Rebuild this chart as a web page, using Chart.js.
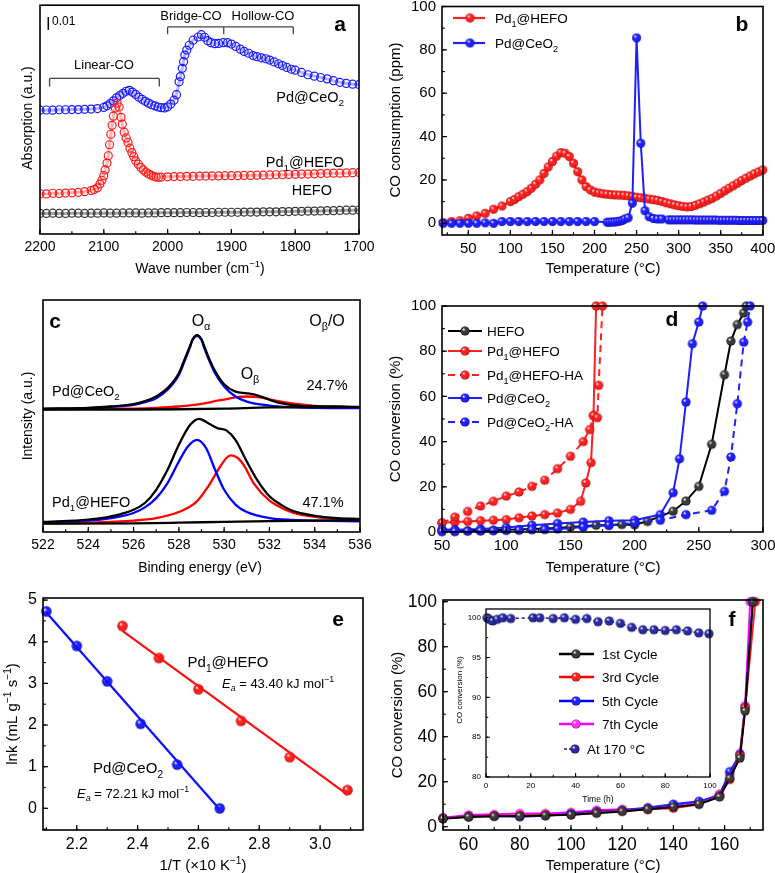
<!DOCTYPE html>
<html><head><meta charset="utf-8">
<script src="https://cdn.jsdelivr.net/npm/chart.js@4.4.0/dist/chart.umd.min.js"></script>
<style>
html,body{margin:0;padding:0;background:#fff;}
#wrap{position:relative;width:775px;height:873px;overflow:hidden;background:#fff;}
canvas{position:absolute;left:0;top:0;}
</style></head><body><div id="wrap">
<canvas id="ca" width="775" height="873"></canvas>
<canvas id="cb" width="775" height="873"></canvas>
<canvas id="cc" width="775" height="873"></canvas>
<canvas id="cd" width="775" height="873"></canvas>
<canvas id="ce" width="775" height="873"></canvas>
<canvas id="cf" width="775" height="873"></canvas>
<canvas id="cg" width="775" height="873"></canvas>
</div>
<script>
// ---------------- DATA ----------------
// Panel a: DRIFTS spectra (relative absorption, arbitrary offset units)
const aHefoX = [2200,2190,2180,2170,2160,2150,2140,2130,2120,2110,2100,2090,2080,2070,2060,2050,2040,2030,2020,2010,2000,1990,1980,1970,1960,1950,1940,1930,1920,1910,1900,1890,1880,1870,1860,1850,1840,1830,1820,1810,1800,1790,1780,1770,1760,1750,1740,1730,1720,1710,1700];
const aHefoY = [9.0,9.0,9.1,9.0,9.0,9.1,9.1,9.0,9.1,9.1,9.2,9.1,9.1,9.2,9.2,9.2,9.1,9.2,9.2,9.3,9.3,9.3,9.3,9.4,9.4,9.3,9.4,9.4,9.5,9.5,9.5,9.5,9.6,9.6,9.6,9.7,9.7,9.7,9.8,9.8,9.9,9.9,10.0,10.0,10.1,10.2,10.2,10.3,10.4,10.4,10.5];
const aPd1X = [2200,2190,2180,2170,2160,2150,2140,2130,2120,2115,2110,2106,2103,2100,2098,2095,2093,2091,2089,2087,2085,2082,2079,2076,2073,2071,2068,2065,2062,2059,2056,2053,2050,2046,2042,2038,2034,2030,2026,2022,2018,2014,2010,2000,1990,1980,1970,1960,1950,1940,1930,1920,1910,1900,1890,1880,1870,1860,1850,1840,1830,1820,1810,1800,1790,1780,1770,1760,1750,1740,1730,1720,1710,1700];
const aPd1Y = [17.6,17.5,17.8,17.7,17.9,18.0,18.2,18.5,19.0,19.4,20.2,21.8,23.5,25.5,28.0,31.0,34.2,39.0,43.6,47.5,51.5,55.1,57.2,55.5,51.0,48.0,44.5,42.0,40.0,37.5,35.6,33.8,32.0,30.5,29.1,28.0,27.0,26.3,25.7,25.2,24.9,24.8,24.9,25.0,25.1,25.1,25.2,25.2,25.3,25.3,25.4,25.4,25.5,25.5,25.5,25.6,25.6,25.7,25.7,25.8,25.9,25.9,26.0,26.1,26.2,26.2,26.3,26.4,26.5,26.6,26.6,26.7,26.8,26.9];
const aCeX = [2200,2190,2180,2170,2160,2150,2140,2130,2120,2110,2100,2095,2090,2085,2080,2075,2070,2065,2060,2055,2050,2045,2040,2035,2030,2025,2020,2015,2010,2005,2000,1995,1990,1986,1982,1980,1977,1975,1973,1970,1966,1960,1952,1947,1942,1937,1932,1926,1920,1913,1906,1900,1893,1886,1880,1873,1866,1860,1853,1846,1840,1833,1826,1820,1813,1806,1800,1790,1780,1770,1760,1750,1740,1730,1720,1710,1700];
const aCeY = [54.1,54.2,54.1,54.3,54.3,54.4,54.4,54.5,54.6,54.8,55.3,56.0,57.0,58.2,59.5,60.5,61.5,62.4,62.8,62.0,61.0,59.8,58.9,58.0,57.2,56.5,56.0,55.5,55.2,55.1,55.6,56.8,58.5,60.9,66.5,68.8,72.4,75.3,78.2,80.4,82.5,84.7,86.1,87.1,86.0,84.5,83.6,83.2,83.3,83.6,83.6,83.0,82.0,80.8,79.8,79.0,78.0,77.5,77.0,76.6,76.0,75.2,74.4,73.6,72.8,72.0,71.6,70.6,69.6,69.0,68.4,67.8,67.0,66.3,65.8,65.5,65.3];

// Panel b: CO-TPR, CO consumption (ppm)
const bPd1T = [20,30,40,50,60,70,80,90,100,105,110,115,120,125,130,135,140,145,150,155,160,165,170,175,180,185,190,195,200,205,210,215,220,225,230,235,240,245,250,255,260,265,270,275,280,285,290,295,300,305,310,315,320,325,330,335,340,345,350,355,360,365,370,375,380,385,390,395,400];
const bPd1V = [0.3,0.8,1.2,2.3,3.4,4.6,6.5,8.0,10.0,11.0,12.3,13.4,14.6,16.2,18.0,20.0,23.0,26.0,28.5,31.0,32.6,32.3,30.8,27.7,23.8,20.0,16.9,15.4,14.4,14.0,13.6,13.4,13.2,13.1,13.0,12.9,12.7,12.4,12.0,11.8,11.5,11.2,10.9,10.6,10.1,9.5,9.0,8.5,8.1,7.8,7.6,7.7,8.3,9.0,9.8,10.7,11.5,12.6,13.8,15.0,16.2,17.3,18.5,19.7,20.8,21.8,22.8,23.7,24.6];
const bCeT = [20,30,40,50,60,70,80,90,100,110,120,130,140,150,160,170,180,190,200,215,218,221,224,227,230,233,236,240,245,250,255,260,265,270,275,280,288,292,296,300,304,308,312,316,320,324,328,332,336,340,344,348,352,356,360,364,368,372,376,380,384,388,392,396,400];
const bCeV = [0,0,0,0,0,0.2,0,0.8,0.8,0.8,0.8,0.8,0.8,0.8,0.8,0.8,0.8,0.8,0.8,0.5,0.5,0.6,0.6,0.8,1.0,1.3,2.0,2.5,9.3,85.5,36.9,5.8,3.0,2.2,2.0,2.0,1.6,1.6,1.6,1.6,1.6,1.6,1.6,1.6,1.5,1.5,1.5,1.5,1.5,1.5,1.5,1.4,1.4,1.4,1.4,1.4,1.4,1.3,1.3,1.3,1.3,1.3,1.3,1.3,1.3];

// Panel c: O 1s XPS (relative intensity, offset)
const cCeEnvX = [522,524,525,526,526.5,527,527.5,528,528.3,528.5,528.6,528.8,529.0,529.1,529.3,529.6,530,530.5,531,531.5,532,532.5,533,534,535,536];
const cCeEnvY = [53.2,53.5,54.1,55.1,56.4,58.4,62.0,68.4,75.6,80.3,82.8,84.9,83.1,80.6,75.6,69.4,63.7,60.5,59.8,58.8,57.0,55.5,54.7,54.2,54.1,53.9];
const cCeAlX = [522,524,525,526,526.5,527,527.5,528,528.3,528.5,528.6,528.8,529.0,529.1,529.3,529.6,530,530.5,531,532,533,534,536];
const cCeAlY = [53.1,53.4,54.0,54.8,56.0,57.7,61.3,67.7,74.9,79.9,82.8,84.6,82.8,79.9,74.9,68.4,62.7,58.4,56.2,54.5,53.8,53.5,53.4];
const cCeBeX = [522,524,526,527,528,529,529.5,530,530.5,531,531.5,532,532.5,533,534,535,536];
const cCeBeY = [52.9,53.1,53.2,53.5,54.1,55.2,56.2,57.1,58.0,58.4,58.1,57.2,56.2,55.4,54.4,54.0,53.8];
const cCeBgX = [522,526,528,530,532,534,536];
const cCeBgY = [52.8,52.8,52.9,53.2,53.7,53.8,53.8];
const cPdEnvX = [522,524,525,526,526.5,527,527.5,528,528.5,528.9,529.3,529.7,530.1,530.5,531,531.5,532,532.5,533,534,535,536];
const cPdEnvY = [4.3,5.3,6.7,9.6,12.5,18.2,26.8,37.6,46.2,48.8,46.9,44.8,43.8,39.7,30.4,21.8,15.4,11.8,9.2,7.0,6.0,5.6];
const cPdAlX = [522,524,525,526,526.5,527,527.5,528,528.4,528.8,529.2,529.6,530,530.5,531,532,533,534,536];
const cPdAlY = [4.2,4.9,6.0,8.2,10.6,14.6,21.1,30.4,36.9,39.7,36.2,26.8,18.2,11.8,8.6,6.0,5.2,4.9,4.6];
const cPdBeX = [522,524,526,527,528,528.8,529.3,529.8,530.1,530.3,530.6,530.9,531.3,532,532.5,533,534,535,536];
const cPdBeY = [3.7,4.0,4.9,6.0,8.6,13.2,19.7,27.8,31.9,33.0,31.9,28.3,21.1,13.5,10.6,8.5,6.5,5.6,5.2];
const cPdBgX = [522,526,528,530,532,534,536];
const cPdBgY = [3.6,3.7,4.0,4.4,4.7,4.9,5.0];

// Panel d: CO conversion (%) vs temperature
const dHefoT = [50,60,70,80,90,100,110,120,130,140,150,160,170,180,190,200,210,230,240,250,260,270,275,280,285,287];
const dHefoV = [0.3,0.3,0.5,0.6,0.8,1.0,1.1,1.3,1.5,1.8,2.2,2.6,3.0,3.0,3.3,3.2,4.7,9.2,13.7,20.2,38.8,69.6,84.5,91.8,96.9,100];
const dPd1T = [50,60,70,80,90,100,110,120,130,140,150,158,162,166,168,170];
const dPd1V = [4.1,4.4,4.7,5.0,5.2,5.5,6.3,7.1,7.7,8.4,10.0,13.6,21.7,30.7,51.6,100];
const dPd1HaT = [50,60,70,80,90,100,110,120,130,140,150,160,165,168,171,172,175];
const dPd1HaV = [4.0,6.6,9.1,11.5,13.6,15.9,17.7,20.2,22.9,28.0,33.5,40.0,45.3,51.5,50.6,64.9,100];
const dCeT = [50,60,80,100,120,140,160,180,200,220,230,235,240,245,250,253];
const dCeV = [1.2,1.0,1.3,2.0,3.0,3.8,4.4,5.0,5.2,7.7,17.4,32.4,57.5,83.3,92.9,100];
const dCeHaT = [50,60,70,80,90,100,110,120,130,140,160,180,200,220,240,260,270,275,280,285,288,290];
const dCeHaV = [0.3,0.3,0.4,0.5,0.6,0.7,0.8,1.0,1.1,1.3,2.2,3.0,4.0,5.2,7.7,9.6,18.0,33.2,56.8,84.0,92.9,100];

// Panel e: Arrhenius plots
const eCeX = [2.10,2.20,2.30,2.41,2.53,2.67];
const eCeY = [4.73,3.90,3.05,2.03,1.05,0.00];
const eCeFitX = [2.10,2.67];
const eCeFitY = [4.70,-0.03];
const ePd1X = [2.35,2.47,2.60,2.74,2.90,3.09];
const ePd1Y = [4.38,3.61,2.86,2.10,1.23,0.44];
const ePd1FitX = [2.35,3.09];
const ePd1FitY = [4.26,0.33];

// Panel f: cycling tests
const fT = [50,60,70,80,90,100,110,120,130,140,150,158,162,166,168];
const f1stV = [3.5,4.3,4.6,4.7,5.0,5.3,6.0,6.8,7.7,8.8,10.0,13.2,21.5,30.5,51.4];
const f3rdV = [3.7,4.4,4.7,5.0,5.2,5.2,6.3,7.0,7.7,8.2,10.0,13.6,21.0,31.5,52.7];
const f5thV = [3.8,4.6,4.8,4.4,4.9,5.8,6.8,7.3,8.5,10.0,11.3,13.8,24.5,32.0,53.0];
const f7thV = [4.0,5.2,5.5,5.9,5.9,6.4,7.3,7.7,7.9,9.6,10.8,14.5,23.3,32.6,53.8];
const fEndT = {first:171, third:172, fifth:171, seventh:170};
const fEndV = 100;
// Inset: stability at 170 °C
const gTime = [0.5,1.5,3,5,7.5,11,21,24,30,35,40,45,50,55,60,65,70,75,80,85,90,95,99.5];
const gConv = [100,99.8,99.6,99.8,100,99.9,100,100,99.9,100,99.8,99.9,99.5,99.6,99.3,98.8,98.5,98.5,98.4,98.5,98.35,98.1,98.0];

// ---------------- HELPERS ----------------
const FONT = '"Liberation Sans", Arial, Helvetica, sans-serif';
const W = 775, H = 873;
Chart.defaults.font.family = FONT;
const pts = (xs, ys) => xs.map((x, i) => ({x: x, y: ys[i]}));

function sphere(col, dark, r) {
  const s = Math.ceil(2 * r + 2), c = document.createElement('canvas');
  c.width = s; c.height = s;
  const g = c.getContext('2d'), m = s / 2;
  const gr = g.createRadialGradient(m - r * 0.35, m - r * 0.4, r * 0.05, m, m, r);
  gr.addColorStop(0, '#ffffff'); gr.addColorStop(0.35, col); gr.addColorStop(0.8, col); gr.addColorStop(1, dark);
  g.fillStyle = gr; g.beginPath(); g.arc(m, m, r, 0, Math.PI * 2); g.fill();
  return c;
}
const C = {red:['#ff2020','#a00000'], blue:['#2020ff','#0000a0'], black:['#3a3a3a','#000000'], mag:['#ff30ff','#b000b0'], navy:['#2a2aa0','#08084a']};
const LINEC = {red:'#ff2020', blue:'#2020ff', black:'#000000', mag:'#ff00ff', navy:'#1a1a80'};
const sph = (k, r) => sphere(C[k][0], C[k][1], r);

function fontStr(size, mode, bold) {
  const small = (mode === 'sub' || mode === 'sup' || mode === 'subit');
  const s = small ? size * 0.68 : size;
  const it = (mode === 'it' || mode === 'subit') ? 'italic ' : '';
  return it + (bold ? 'bold ' : '') + s.toFixed(1) + 'px ' + FONT;
}
function rich(ctx, parts, x, yc, size, align, bold, color) {
  const segs = parts.map(p => typeof p === 'string' ? [p, 'n'] : p);
  let w = 0;
  segs.forEach(([t, m]) => { ctx.font = fontStr(size, m, bold); w += ctx.measureText(t).width; });
  let cx = align === 'center' ? x - w / 2 : align === 'right' ? x - w : x;
  const base = yc + size * 0.36;
  ctx.textAlign = 'left'; ctx.textBaseline = 'alphabetic'; ctx.fillStyle = color || '#000';
  segs.forEach(([t, m]) => {
    ctx.font = fontStr(size, m, bold);
    const dy = (m === 'sub' || m === 'subit') ? size * 0.28 : m === 'sup' ? -size * 0.42 : 0;
    ctx.fillText(t, cx, base + dy);
    cx += ctx.measureText(t).width;
  });
}
function richRot(ctx, parts, x, yc, size) {
  ctx.save(); ctx.translate(x, yc); ctx.rotate(-Math.PI / 2);
  rich(ctx, parts, 0, 0, size, 'center'); ctx.restore();
}
function minors(min, max, step) {
  const r = [];
  for (let v = Math.ceil(min / step - 1e-9) * step; v <= max + 1e-9; v += step) r.push(+v.toFixed(6));
  return r;
}
function legendRow(ctx, x1, x2, xm, y, col, img, dash, parts, tx, size, lw) {
  ctx.save(); ctx.strokeStyle = col; ctx.lineWidth = lw || 2.2;
  if (dash) ctx.setLineDash(dash);
  ctx.beginPath(); ctx.moveTo(x1, y); ctx.lineTo(x2, y); ctx.stroke(); ctx.restore();
  ctx.drawImage(img, xm - img.width / 2, y - img.height / 2);
  rich(ctx, parts, tx, y, size, 'left');
}

function deco(o) {
  return {id: 'deco', afterDraw(chart) {
    const ctx = chart.ctx, A = chart.chartArea, X = chart.scales.x, Y = chart.scales.y;
    ctx.save();
    ctx.strokeStyle = '#000'; ctx.lineWidth = o.frameW || 1.6;
    ctx.strokeRect(A.left, A.top, A.right - A.left, A.bottom - A.top);
    ctx.lineWidth = o.tickW || 1.2;
    const tl = o.tl || 5;
    const dx = (vals, len) => vals.forEach(v => { const p = X.getPixelForValue(v);
      if (p < A.left - 0.5 || p > A.right + 0.5) return;
      ctx.beginPath(); ctx.moveTo(p, A.bottom); ctx.lineTo(p, A.bottom - len); ctx.stroke(); });
    const dy = (vals, len) => vals.forEach(v => { const p = Y.getPixelForValue(v);
      if (p < A.top - 0.5 || p > A.bottom + 0.5) return;
      ctx.beginPath(); ctx.moveTo(A.left, p); ctx.lineTo(A.left + len, p); ctx.stroke(); });
    dx(X.ticks.map(t => t.value), tl);
    if (o.xMinor) dx(minors(X.min, X.max, o.xMinor), tl * 0.55);
    if (o.yTicks) { dy(Y.ticks.map(t => t.value), tl); if (o.yMinor) dy(minors(Y.min, Y.max, o.yMinor), tl * 0.55); }
    ctx.restore();
    if (o.annot) { ctx.save(); o.annot(ctx, chart); ctx.restore(); }
  }};
}
function tk(step, size, fmt, pad, show) {
  return {display: show !== false, stepSize: step, includeBounds: false, autoSkip: false, maxRotation: 0, minRotation: 0,
    padding: pad == null ? 5 : pad, color: '#000', font: {family: FONT, size: size},
    callback: v => fmt ? fmt(v) : String(v)};
}
function mk(id, area, xo, yo, datasets, o) {
  const yW = Math.min(40, area.l), xH = 28;
  const sc = (c, isX) => Object.assign({type: 'linear', grid: {display: false, drawTicks: false}, border: {display: false},
    afterFit(s) { if (isX) s.height = xH; else s.width = yW; s.paddingLeft = 0; s.paddingRight = 0; s.paddingTop = 0; s.paddingBottom = 0; }}, c);
  return new Chart(document.getElementById(id), {
    type: 'line', data: {datasets: datasets},
    options: {
      responsive: false, maintainAspectRatio: false, animation: false, events: [], devicePixelRatio: 1,
      layout: {padding: {left: area.l - yW, top: area.t, right: W - area.r, bottom: H - area.b - xH}},
      plugins: {legend: {display: false}, tooltip: {enabled: false}},
      elements: {line: {tension: 0}, point: {radius: 0}},
      scales: {x: sc(Object.assign({position: 'bottom'}, xo), true), y: sc(Object.assign({position: 'left'}, yo), false)}
    },
    plugins: [deco(o)]
  });
}
const hollow = (xs, ys, col, band) => ({data: pts(xs, ys), showLine: true, borderWidth: 3, borderColor: band,
  pointStyle: 'circle', pointRadius: 4, pointBorderWidth: 1.2, pointBorderColor: col, pointBackgroundColor: 'rgba(0,0,0,0)'});
const ballLine = (xs, ys, k, r, dash, lw) => ({data: pts(xs, ys), borderColor: LINEC[k],
  borderWidth: lw || 2, borderDash: dash || [], pointStyle: sph(k, r), pointRadius: r, clip: false});
const curve = (xs, ys, col) => ({data: pts(xs, ys), borderColor: col, borderWidth: 2.3, pointRadius: 0, cubicInterpolationMode: 'monotone'});

// ---------------- PANEL a ----------------
mk('ca', {l: 40, t: 3, r: 359, b: 234},
  {min: 1700, max: 2200, reverse: true, ticks: tk(100, 14)},
  {min: 0, max: 100, ticks: {display: false}},
  [hollow(aHefoX, aHefoY, '#333333', 'rgba(60,60,60,0.45)'), hollow(aPd1X, aPd1Y, '#ff1a1a', 'rgba(255,40,40,0.35)'), hollow(aCeX, aCeY, '#1a1aff', 'rgba(40,40,255,0.35)')],
  {xMinor: 50, annot(ctx, ch) {
    const X = ch.scales.x, Y = ch.scales.y;
    ctx.strokeStyle = '#444'; ctx.lineWidth = 1.3;
    const br = (x1, x2, yv, yt, mids) => { const y = Y.getPixelForValue(yv), yd = Y.getPixelForValue(yt);
      ctx.beginPath();
      [x1, x2].concat(mids).forEach(v => { const p = X.getPixelForValue(v); ctx.moveTo(p, y); ctx.lineTo(p, yd); });
      ctx.moveTo(X.getPixelForValue(x1), y); ctx.lineTo(X.getPixelForValue(x2), y); ctx.stroke(); };
    br(2185, 2013, 68, 64.5, []);
    br(2000, 1803, 90.5, 87.3, [1912]);
    ctx.strokeStyle = '#000'; ctx.lineWidth = 1.5;
    ctx.beginPath(); ctx.moveTo(X.getPixelForValue(2187), Y.getPixelForValue(94.8)); ctx.lineTo(X.getPixelForValue(2187), Y.getPixelForValue(89.2)); ctx.stroke();
    rich(ctx, ['0.01'], 52, 21, 12, 'left');
    rich(ctx, ['Linear-CO'], 104, 64, 13, 'center');
    rich(ctx, ['Bridge-CO'], 191, 15, 13, 'center');
    rich(ctx, ['Hollow-CO'], 263, 15, 13, 'center');
    rich(ctx, ['Pd@CeO', ['2', 'sub']], 344, 97, 14.5, 'right');
    rich(ctx, ['Pd', ['1', 'sub'], '@HEFO'], 344, 162, 14.5, 'right');
    rich(ctx, ['HEFO'], 332, 190, 14.5, 'right');
    rich(ctx, ['a'], 340, 23, 21, 'center', true);
    richRot(ctx, ['Absorption (a.u.)'], 27, 118, 14);
    rich(ctx, ['Wave number (cm', ['\u22121', 'sup'], ')'], 200, 268, 14, 'center');
  }});

// ---------------- PANEL b ----------------
const bRedS = sph('red', 4.5), bBlueS = sph('blue', 4.5);
mk('cb', {l: 442, t: 6, r: 763, b: 235},
  {min: 18.7, max: 400.3, ticks: tk(50, 15)},
  {min: -5.4, max: 100, ticks: tk(20, 15, null, 6)},
  [ballLine(bCeT, bCeV, 'blue', 4.5), ballLine(bPd1T, bPd1V, 'red', 4.5)],
  {xMinor: 25, yTicks: true, yMinor: 10, annot(ctx) {
    legendRow(ctx, 453, 485, 470, 18, '#ff2020', bRedS, null, ['Pd', ['1', 'sub'], '@HEFO'], 495, 13.5);
    legendRow(ctx, 453, 485, 470, 43, '#2020ff', bBlueS, null, ['Pd@CeO', ['2', 'sub']], 495, 13.5);
    rich(ctx, ['b'], 742, 23, 21, 'center', true);
    richRot(ctx, ['CO consumption (ppm)'], 395, 120, 15);
    rich(ctx, ['Temperature (\u00B0C)'], 603, 268, 15, 'center');
  }});

// ---------------- PANEL c ----------------
mk('cc', {l: 43, t: 300, r: 360, b: 532},
  {min: 522, max: 536, ticks: tk(2, 14)},
  {min: 0, max: 100, ticks: {display: false}},
  [curve(cCeBgX, cCeBgY, '#000'), curve(cPdBgX, cPdBgY, '#000'),
   curve(cCeEnvX, cCeEnvY, '#000'), curve(cPdEnvX, cPdEnvY, '#000'),
   curve(cCeAlX, cCeAlY, '#0000ff'), curve(cPdAlX, cPdAlY, '#0000ff'),
   curve(cCeBeX, cCeBeY, '#ff0000'), curve(cPdBeX, cPdBeY, '#ff0000')],
  {xMinor: 1, annot(ctx) {
    rich(ctx, ['c'], 55, 320, 21, 'center', true);
    rich(ctx, ['O', ['\u03B1', 'sub']], 201, 320, 16, 'center');
    rich(ctx, ['O', ['\u03B2', 'sub'], '/O'], 327, 320, 16, 'center');
    rich(ctx, ['O', ['\u03B2', 'sub']], 250, 373, 16, 'center');
    rich(ctx, ['24.7%'], 327, 385, 14.5, 'center');
    rich(ctx, ['Pd@CeO', ['2', 'sub']], 52, 391, 14.5, 'left');
    rich(ctx, ['Pd', ['1', 'sub'], '@HEFO'], 52, 502, 14.5, 'left');
    rich(ctx, ['47.1%'], 323, 502, 14.5, 'center');
    richRot(ctx, ['Intensity (a.u.)'], 27, 416, 14);
    rich(ctx, ['Binding energy (eV)'], 200, 567, 14, 'center');
  }});

// ---------------- PANEL d ----------------
const dS = {k: sph('black', 4.6), r: sph('red', 4.6), b: sph('blue', 4.6)};
mk('cd', {l: 442, t: 306, r: 763, b: 532},
  {min: 50, max: 300, ticks: tk(50, 15)},
  {min: 0, max: 100, ticks: tk(20, 15, null, 6)},
  [ballLine(dCeHaT, dCeHaV, 'blue', 4.6, [7, 5]), ballLine(dCeT, dCeV, 'blue', 4.6),
   ballLine(dHefoT, dHefoV, 'black', 4.6), ballLine(dPd1HaT, dPd1HaV, 'red', 4.6, [7, 5]), ballLine(dPd1T, dPd1V, 'red', 4.6)],
  {xMinor: 25, yTicks: true, yMinor: 10, annot(ctx) {
    legendRow(ctx, 448, 482, 465, 331, '#000', dS.k, null, ['HEFO'], 487, 13.5);
    legendRow(ctx, 448, 482, 465, 351, '#ff2020', dS.r, null, ['Pd', ['1', 'sub'], '@HEFO'], 487, 13.5);
    legendRow(ctx, 448, 482, 465, 375, '#ff2020', dS.r, [7, 5], ['Pd', ['1', 'sub'], '@HEFO-HA'], 487, 13.5);
    legendRow(ctx, 448, 482, 465, 398, '#2020ff', dS.b, null, ['Pd@CeO', ['2', 'sub']], 487, 13.5);
    legendRow(ctx, 448, 482, 465, 422, '#2020ff', dS.b, [7, 5], ['Pd@CeO', ['2', 'sub'], '-HA'], 487, 13.5);
    rich(ctx, ['d'], 672, 318, 21, 'center', true);
    richRot(ctx, ['CO conversion (%)'], 395, 419, 15);
    rich(ctx, ['Temperature (\u00B0C)'], 603, 567, 15, 'center');
  }});

// ---------------- PANEL e ----------------
mk('ce', {l: 43, t: 598, r: 363, b: 830},
  {min: 2.089, max: 3.141, ticks: tk(0.2, 16, v => v.toFixed(1))},
  {min: -0.52, max: 5.05, ticks: tk(1, 16, null, 6)},
  [{data: pts(eCeFitX, eCeFitY), borderColor: '#1010ff', borderWidth: 2.3, pointRadius: 0},
   {data: pts(ePd1FitX, ePd1FitY), borderColor: '#ff1010', borderWidth: 2.3, pointRadius: 0},
   Object.assign(ballLine(eCeX, eCeY, 'blue', 5.2), {showLine: false}),
   Object.assign(ballLine(ePd1X, ePd1Y, 'red', 5.2), {showLine: false})],
  {xMinor: 0.1, yTicks: true, yMinor: 0.5, annot(ctx) {
    rich(ctx, ['e'], 338, 618, 21, 'center', true);
    rich(ctx, ['Pd', ['1', 'sub'], '@HEFO'], 228, 662, 15, 'center');
    rich(ctx, [['E', 'it'], ['a', 'subit'], ' = 43.40 kJ mol', ['\u22121', 'sup']], 222, 683, 13, 'left');
    rich(ctx, ['Pd@CeO', ['2', 'sub']], 128, 768, 15, 'center');
    rich(ctx, [['E', 'it'], ['a', 'subit'], ' = 72.21 kJ mol', ['\u22121', 'sup']], 77, 793, 13, 'left');
    richRot(ctx, ['lnk (mL g', ['\u22121', 'sup'], ' s', ['\u22121', 'sup'], ')'], 12, 714, 15);
    rich(ctx, ['1/T (\u00D710 K', ['\u22121', 'sup'], ')'], 203, 865, 15, 'center');
  }});

// ---------------- PANEL f ----------------
const withEnd = (vals, t) => fT.concat([t]).map((x, i) => ({x: x, y: i < vals.length ? vals[i] : fEndV}));
const fLine = (vals, t, k) => { const d = ballLine([], [], k, 4.6); d.data = withEnd(vals, t); return d; };
mk('cf', {l: 443, t: 600, r: 763, b: 830},
  {min: 50, max: 175, ticks: tk(20, 17.5)},
  {min: -1.47, max: 100.76, ticks: tk(20, 17.5, null, 6)},
  [fLine(f1stV, fEndT.first, 'black'), fLine(f3rdV, fEndT.third, 'red'), fLine(f5thV, fEndT.fifth, 'blue'), fLine(f7thV, fEndT.seventh, 'mag')],
  {xMinor: 10, yTicks: true, yMinor: 10, annot(ctx) {
    rich(ctx, ['f'], 732, 618, 21, 'center', true);
    richRot(ctx, ['CO conversion (%)'], 397, 715, 15);
    rich(ctx, ['Temperature (\u00B0C)'], 603, 865, 15, 'center');
  }});

// ---------------- INSET of f ----------------
const gS = {k: sph('black', 4.6), r: sph('red', 4.6), b: sph('blue', 4.6), m: sph('mag', 4.6), n: sph('navy', 4.6)};
mk('cg', {l: 486, t: 609, r: 710, b: 777},
  {min: 0, max: 100, ticks: tk(20, 8, null, 4)},
  {min: 80, max: 101.1, ticks: tk(5, 8, null, 5)},
  [ballLine(gTime, gConv, 'navy', 4.6, [3, 3], 1.5)],
  {xMinor: 10, yTicks: true, yMinor: 2.5, tl: 4, frameW: 1.3, tickW: 1, annot(ctx) {
    legendRow(ctx, 559, 594, 576, 654, '#000', gS.k, null, ['1st Cycle'], 602, 13.5, 2.6);
    legendRow(ctx, 559, 594, 576, 677, '#ff0000', gS.r, null, ['3rd Cycle'], 602, 13.5, 2.6);
    legendRow(ctx, 559, 594, 576, 701, '#0000ff', gS.b, null, ['5th Cycle'], 602, 13.5, 2.6);
    legendRow(ctx, 559, 594, 576, 724, '#ff00ff', gS.m, null, ['7th Cycle'], 602, 13.5, 2.6);
    legendRow(ctx, 564, 572, 575, 749, '#1a1a80', gS.n, [3, 2], ['At 170 \u00B0C'], 587, 13.5, 1.5);
    richRot(ctx, ['CO conversion (%)'], 459, 690, 8);
    rich(ctx, ['Time (h)'], 598, 799, 8.5, 'center');
  }});
</script>
</body></html>
